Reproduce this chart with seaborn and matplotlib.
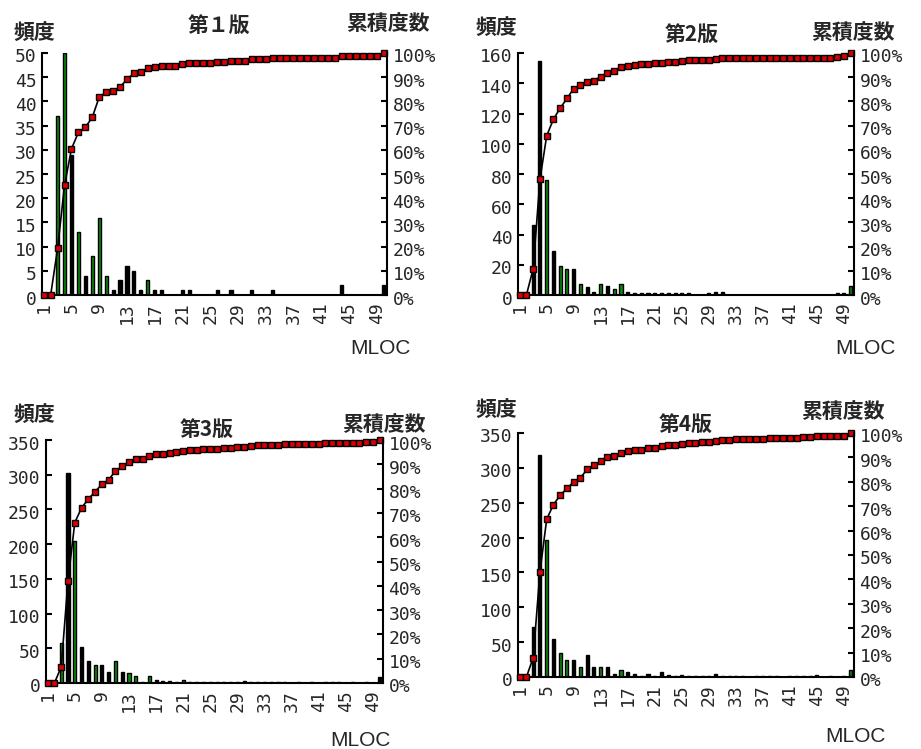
import numpy as np
import pandas as pd
import matplotlib.pyplot as plt
import matplotlib.transforms as mtransforms
import seaborn as sns

# MLOC categories 1..50
mloc = list(range(1, 51))

# frequency per MLOC (v1..v4 = 第1版..第4版)
freq_v1 = [0, 0, 37, 50, 29, 13, 4, 8, 16, 4,
           1, 3, 6, 5, 1, 3, 1, 1, 0, 0,
           1, 1, 0, 0, 0, 1, 0, 1, 0, 0,
           1, 0, 0, 1, 0, 0, 0, 0, 0, 0,
           0, 0, 0, 2, 0, 0, 0, 0, 0, 2]
freq_v2 = [0, 0, 46, 155, 76, 29, 19, 17, 17, 7,
           5, 2, 7, 6, 4, 7, 2, 1, 1, 1,
           1, 1, 1, 1, 1, 1, 0, 0, 1, 2,
           2, 0, 0, 0, 0, 0, 0, 0, 0, 0,
           0, 0, 0, 0, 0, 0, 0, 1, 1, 6]
freq_v3 = [0, 0, 57, 303, 205, 52, 31, 26, 26, 16,
           31, 16, 15, 10, 2, 10, 5, 3, 3, 2,
           5, 2, 2, 1, 2, 1, 1, 1, 2, 3,
           2, 2, 1, 1, 1, 1, 0, 1, 0, 1,
           0, 1, 1, 1, 0, 1, 0, 1, 0, 8]
freq_v4 = [0, 0, 72, 318, 196, 54, 35, 25, 25, 15,
           31, 15, 15, 15, 5, 10, 7, 5, 1, 5,
           2, 7, 3, 2, 3, 2, 2, 1, 2, 5,
           1, 1, 2, 1, 0, 1, 1, 1, 1, 0,
           1, 1, 1, 1, 3, 0, 1, 0, 1, 10]

# which bars show their green fill in the original (the rest look black)
green_v1 = [3, 4, 6, 8, 9, 10, 16]
green_v2 = [5, 7, 8, 10, 13, 15, 16, 50]
green_v3 = [3, 5, 8, 11, 13, 14, 16, 21]
green_v4 = [5, 7, 8, 10, 13, 16, 50]

titles = ['第１版', '第2版', '第3版', '第4版']

sns.set_theme(style='white')
plt.rcParams['font.family'] = ['DejaVu Sans Mono', 'Noto Sans CJK JP']

W, H = 921, 749
GREEN = '#0a8a0a'
RED = '#dd0000'
CJK = ['Noto Sans CJK JP', 'DejaVu Sans']

fig = plt.figure(figsize=(W / 100, H / 100), dpi=100)
# tick labels sit a few pixels below their ticks in the original
down = mtransforms.ScaledTranslation(0, -2.5 / 100, fig.dpi_scale_trans)


def px_box(left, top, right, bottom):
    return [left / W, 1 - bottom / H, (right - left) / W, (bottom - top) / H]


def put(x, y, s, family=CJK, weight='bold'):
    fig.text(x / W, 1 - y / H, s, ha='center', va='center', fontsize=15,
             family=family, weight=weight)


def draw_panel(box, counts, green, ymax, ystep, title, pos):
    ax = fig.add_axes(px_box(*box))
    df = pd.DataFrame({'MLOC': mloc, 'freq': counts})
    sns.barplot(data=df, x='MLOC', y='freq', native_scale=True, width=0.45,
                color=GREEN, edgecolor='black', linewidth=1, errorbar=None,
                saturation=1, ax=ax)
    for p, m in zip(ax.patches, mloc):
        if m not in green:
            p.set_facecolor('black')
    ax.set_xlabel('')
    ax.set_ylabel('')
    ax.set_xlim(0.75, 50.5)
    ax.set_ylim(0, ymax)
    ax.set_xticks(mloc)
    ax.set_xticklabels([str(m) if (m - 1) % 4 == 0 else '' for m in mloc],
                       rotation=90)
    ax.set_yticks(np.arange(0, ymax + 1, ystep))
    ax.tick_params(axis='x', direction='in', length=3, width=1.2, pad=5,
                   labelsize=13, color='black')
    ax.tick_params(axis='y', direction='in', length=4, width=1.5, pad=4,
                   labelsize=13, color='black')
    for lab in ax.get_yticklabels():
        lab.set_transform(lab.get_transform() + down)
    for s in ['top', 'right']:
        ax.spines[s].set_visible(False)
    for s in ['left', 'bottom']:
        ax.spines[s].set_color('black')
        ax.spines[s].set_linewidth(1.5)

    # cumulative share on the right axis
    cum = np.cumsum(counts) / np.sum(counts) * 100
    ax2 = ax.twinx()
    sns.lineplot(x=mloc, y=cum, ax=ax2, color='black', lw=1.2, marker='s',
                 markersize=5, markerfacecolor=RED, markeredgecolor='black',
                 markeredgewidth=1, clip_on=False)
    ax2.set_xlim(0.75, 50.5)
    ax2.set_ylim(0, 100)
    ax2.set_yticks(range(0, 101, 10))
    ax2.set_yticklabels([f'{v}%' for v in range(0, 101, 10)])
    ax2.tick_params(axis='y', direction='in', length=4, width=1.5, pad=4,
                    labelsize=13, color='black')
    for lab in ax2.get_yticklabels():
        lab.set_transform(lab.get_transform() + down)
    for s in ['top', 'left', 'bottom']:
        ax2.spines[s].set_visible(False)
    ax2.spines['right'].set_color('black')
    ax2.spines['right'].set_linewidth(1.5)
    ax2.set_ylabel('')

    # header texts
    put(*pos[0], '頻度')
    put(*pos[1], title)
    put(*pos[2], '累積度数')
    put(*pos[3], 'MLOC', family=['Liberation Sans'], weight='normal')


draw_panel((42, 53, 387, 295), freq_v1, green_v1, 50, 5, titles[0],
           [(34, 32), (219, 25), (388, 23), (380, 348)])
draw_panel((518, 53, 854, 295), freq_v2, green_v2, 160, 20, titles[1],
           [(496, 27), (692, 34), (853, 32), (865, 348)])
draw_panel((46, 440, 383, 683), freq_v3, green_v3, 350, 50, titles[2],
           [(34, 414), (207, 429), (384, 424), (360, 741)])
draw_panel((518, 433, 854, 677), freq_v4, green_v4, 350, 50, titles[3],
           [(496, 409), (686, 424), (843, 411), (855, 737)])

plt.savefig('out.png', dpi=100)
